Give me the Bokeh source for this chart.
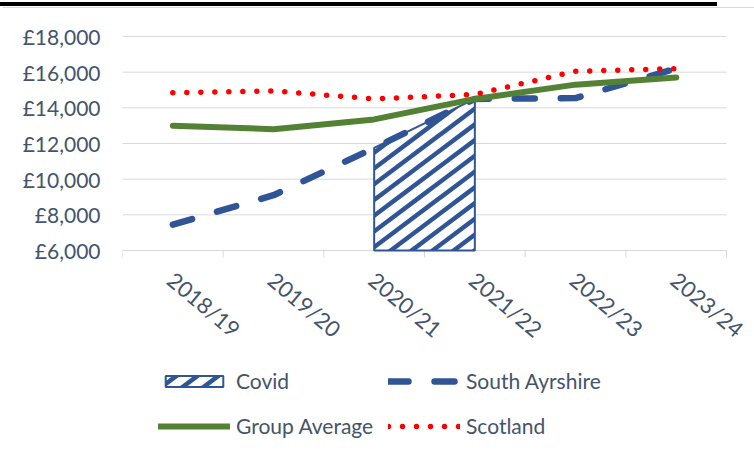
import math
import urllib.parse
from bokeh.plotting import figure
from bokeh.models import (Range1d, FixedTicker, Legend, LegendItem, Div, ImageURLTexture)
from bokeh.layouts import column
from bokeh.core.properties import value
from bokeh.embed import file_html
from bokeh.resources import INLINE

# ---- data ----
years = ["2018/19", "2019/20", "2020/21", "2021/22", "2022/23", "2023/24"]
south_ayrshire = [7450, 9100, 11750, 14500, 14550, 16200]
group_average = [13000, 12800, 13350, 14500, 15300, 15700]
scotland = [14850, 14950, 14500, 14750, 16050, 16200]
covid = [None, None, 11750, 14500, None, None]
y_ticks = [6000, 8000, 10000, 12000, 14000, 16000, 18000]
y_tick_labels = ["£6,000", "£8,000", "£10,000", "£12,000", "£14,000", "£16,000", "£18,000"]

FONT = "Lato"
TXT = "#44546A"
GRID = "#D9D9D9"
BLUE = "#2F5597"
GREEN = "#548235"
RED = "#FF0000"

y_min, y_max = y_ticks[0], y_ticks[-1]
n = len(years)
xc = [i + 0.5 for i in range(n)]          # category centres
xb = list(range(n + 1))                    # category boundaries

# ---- layout geometry (pixels) ----
FIG_W, FIG_H = 754, 444
LEFT = 122               # figure x of the plot area's left edge
PLOT_W = 604             # width of the category axis
TOP_PAD = 26             # figure top -> frame top
AXIS_Y = 242             # figure y of the lowest gridline
GRID_TOP = 28            # figure y of the highest gridline
PX = (AXIS_Y - GRID_TOP) / (y_max - y_min)   # pixels per data unit (y)
y_start = y_min - (FIG_H - AXIS_Y) / PX
y_end = y_max + (GRID_TOP - TOP_PAD) / PX
x_end = n * (FIG_W - LEFT) / PLOT_W

# cropped heading rule and chart-area edge at the very top of the picture
bar = Div(text="", width=717, height=4, margin=(2, 0, 1, 0),
          styles={"background-color": "#000000"})
edge = Div(text="", width=751, height=1, margin=(0, 0, 0, 3),
           styles={"background-color": GRID})

p = figure(x_range=Range1d(0, x_end), y_range=Range1d(y_start, y_end),
           width=FIG_W, height=FIG_H, output_backend="svg", toolbar_location=None,
           min_border_left=LEFT, min_border_right=0, min_border_top=TOP_PAD,
           min_border_bottom=0, margin=0)
p.outline_line_color = None
p.background_fill_color = "white"
p.border_fill_color = "white"
p.xaxis.visible = False
p.xgrid.grid_line_color = None
p.ygrid.grid_line_color = None

# y axis
p.yaxis.ticker = FixedTicker(ticks=y_ticks)
p.yaxis.major_label_overrides = {t: l for t, l in zip(y_ticks, y_tick_labels)}
p.yaxis.axis_line_color = None
p.yaxis.major_tick_line_color = None
p.yaxis.minor_tick_line_color = None
p.yaxis.major_label_standoff = 16
p.yaxis.major_label_text_font = FONT
p.yaxis.major_label_text_font_size = "21px"
p.yaxis.major_label_text_color = TXT

# horizontal gridlines over the category span
p.segment(x0=[xb[0]] * len(y_ticks), x1=[xb[-1]] * len(y_ticks), y0=y_ticks, y1=y_ticks,
          line_color=GRID, line_width=1)

# category boundary tick marks below the axis line
tick_len = 7 / PX
p.segment(x0=xb, x1=xb, y0=[y_min] * len(xb), y1=[y_min - tick_len] * len(xb),
          line_color=GRID, line_width=1)

# rotated category labels
p.text(x=xc, y=[y_min] * n, text=years, angle=-math.radians(40),
       x_offset=-2, y_offset=26, text_align="left", text_baseline="middle",
       text_font=value(FONT), text_font_size="22px", text_color=TXT)

# covid area with wide upward diagonal hatch (tile: 3 x 4 stripe periods)
S = 63
C = S / 4
lines = "".join(
    f'<line x1="{-S}" y1="{S - (-0.75 * S + k * C):.2f}" x2="{2 * S}" '
    f'y2="{S - (1.5 * S + k * C):.2f}" stroke="{BLUE}" stroke-width="4.6"/>'
    for k in range(-8, 9))
svg_tile = (f'<svg xmlns="http://www.w3.org/2000/svg" width="{S}" height="{S}" '
            f'viewBox="0 0 {S} {S}"><rect width="{S}" height="{S}" fill="white"/>{lines}</svg>')
stripes = ImageURLTexture(url="data:image/svg+xml;charset=utf-8," + urllib.parse.quote(svg_tile),
                          repetition="repeat")

cidx = [i for i, v in enumerate(covid) if v is not None]
cv = [covid[i] for i in cidx]
patch_x = [xc[cidx[0]]] + [xc[i] for i in cidx] + [xc[cidx[-1]]]
patch_y = [y_min] + cv + [y_min]
r_covid = p.patch(patch_x, patch_y, fill_color="white", line_color=BLUE, line_width=2,
                  hatch_pattern="stripes", hatch_extra={"stripes": stripes},
                  hatch_color=BLUE, hatch_scale=S)

r_sa = p.line(xc, south_ayrshire, line_color=BLUE, line_width=6.5, line_dash="20 26",
              line_cap="round")
r_ga = p.line(xc, group_average, line_color=GREEN, line_width=6, line_cap="round")
r_sc = p.line(xc, scotland, line_color=RED, line_width=5.5, line_dash="0 14",
              line_cap="round")

def make_legend(items, x):
    lg = Legend(items=items, location=(x, 14), orientation="vertical",
                glyph_width=72, glyph_height=14, label_height=14, spacing=20,
                label_standoff=6, padding=0, margin=0,
                border_line_color=None, background_fill_alpha=0,
                label_text_font=FONT, label_text_font_size="21px",
                label_text_color=TXT)
    p.add_layout(lg)

make_legend([LegendItem(label="Covid", renderers=[r_covid]),
             LegendItem(label="Group Average", renderers=[r_ga])], 36)
make_legend([LegendItem(label="South Ayrshire", renderers=[r_sa]),
             LegendItem(label="Scotland", renderers=[r_sc])], 266)

open("out.html", "w").write(file_html(column(bar, edge, p, spacing=0), INLINE))
